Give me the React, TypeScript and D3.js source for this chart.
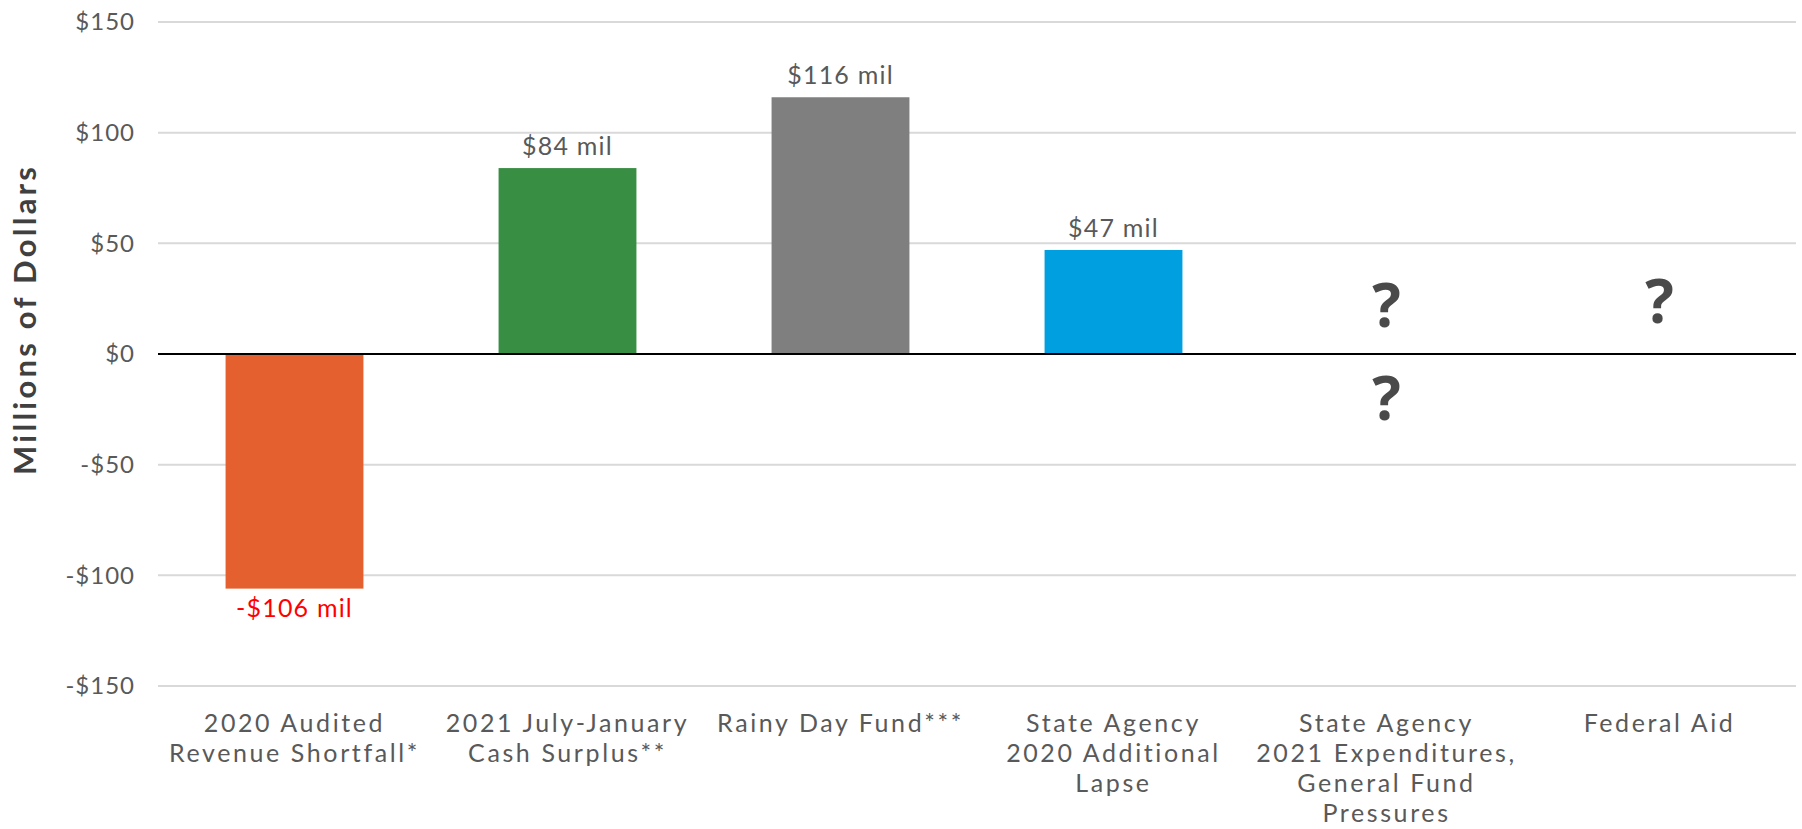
import React from 'react'
import * as d3 from 'd3'

const categories = [
  ['2020 Audited', 'Revenue Shortfall*'],
  ['2021 July-January', 'Cash Surplus**'],
  ['Rainy Day Fund***'],
  ['State Agency', '2020 Additional', 'Lapse'],
  ['State Agency', '2021 Expenditures,', 'General Fund', 'Pressures'],
  ['Federal Aid'],
]
const values = [-106, 84, 116, 47, null, null]
const valueLabels = ['-$106 mil', '$84 mil', '$116 mil', '$47 mil', '', '']
const barColors = ['#E5602F', '#388E43', '#7F7F7F', '#009FDF', '#999', '#999']
const yTicks = [-150, -100, -50, 0, 50, 100, 150]

// unknown amounts drawn as "?" marks (category index, value where the mark sits)
const unknownCat = [4, 4, 5]
const unknownAt = [12, -30, 14]

const W = 1802
const H = 829
const margin = { top: 22, right: 6, bottom: 143, left: 158 }

const font = 'Lato, "Open Sans", sans-serif'
const textGray = '#595959'

export default function App() {
  const x = d3
    .scaleBand<number>()
    .domain(d3.range(categories.length))
    .range([margin.left, W - margin.right])
    .paddingInner(0.495)
    .paddingOuter(0.2475)

  const y = d3
    .scaleLinear()
    .domain([-150, 150])
    .range([H - margin.bottom, margin.top])

  const fmt = (v: number) => (v < 0 ? '-$' + Math.abs(v) : '$' + v)
  const cx = (i: number) => x(i)! + x.bandwidth() / 2

  return (
    <svg
      width={W}
      height={H}
      style={{ position: 'fixed', left: 0, top: 0, background: '#fff' }}
      fontFamily={font}
    >
      {/* gridlines + y ticks */}
      {yTicks.map((t) => (
        <g key={t}>
          {t !== 0 && (
            <line
              x1={margin.left}
              x2={W - margin.right}
              y1={y(t)}
              y2={y(t)}
              stroke="#d9d9d9"
              strokeWidth={2}
            />
          )}
          <text
            x={135}
            y={y(t)}
            dy="0.35em"
            textAnchor="end"
            fontSize={24}
            letterSpacing={1}
            fill={textGray}
          >
            {fmt(t)}
          </text>
        </g>
      ))}

      <text
        transform={`translate(36,${(y(150) + y(-150)) / 2 - 33}) rotate(-90)`}
        textAnchor="middle"
        fontSize={31}
        fontWeight={700}
        textLength={308}
        lengthAdjust="spacing"
        fill="#404040"
      >
        Millions of Dollars
      </text>

      {/* bars */}
      {values.map((v, i) =>
        v == null ? null : (
          <g key={i}>
            <rect
              x={x(i)}
              width={x.bandwidth()}
              y={Math.min(y(v), y(0))}
              height={Math.abs(y(v) - y(0))}
              fill={barColors[i]}
            />
            <text
              x={cx(i)}
              y={v >= 0 ? y(v) - 13 : y(v) + 28}
              textAnchor="middle"
              fontSize={25}
              letterSpacing={1.2}
              fill={v >= 0 ? textGray : '#FF0000'}
            >
              {valueLabels[i]}
            </text>
          </g>
        )
      )}

      {unknownCat.map((c, k) => (
        <text
          key={k}
          x={cx(c)}
          y={y(unknownAt[k])}
          textAnchor="middle"
          fontFamily='"Open Sans", sans-serif'
          fontSize={60}
          fontWeight={700}
          fill="#4a4a4a"
        >
          ?
        </text>
      ))}

      {/* zero line */}
      <line
        x1={margin.left}
        x2={W - margin.right}
        y1={y(0)}
        y2={y(0)}
        stroke="#000"
        strokeWidth={2}
      />

      {/* category labels */}
      {categories.map((lines, i) =>
        lines.map((l, j) => (
          <text
            key={i + '-' + j}
            x={cx(i)}
            y={732 + j * 30}
            textAnchor="middle"
            fontSize={25}
            letterSpacing={2.6}
            fill={textGray}
          >
            {l}
          </text>
        ))
      )}
    </svg>
  )
}
